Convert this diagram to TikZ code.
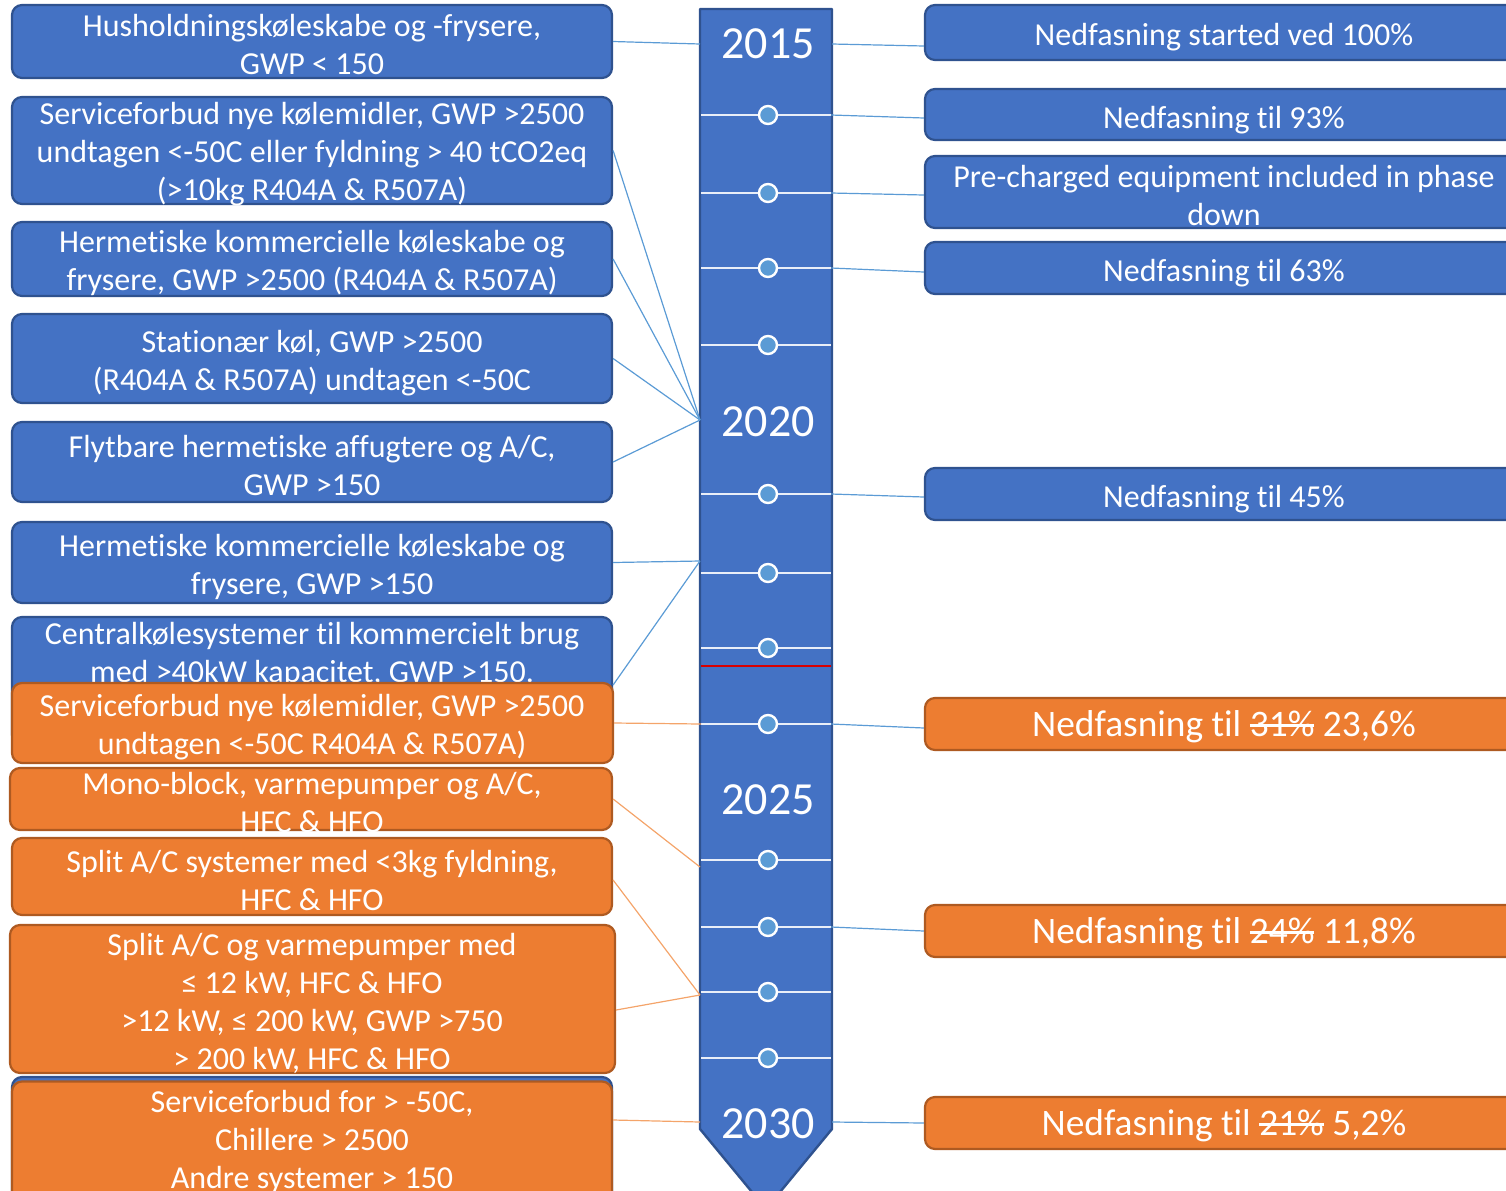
\documentclass[tikz,border=0pt]{standalone}
\usepackage{fontspec}
\setmainfont{Carlito}[Ligatures=NoCommon]
\newsavebox\tlsbox
\newcommand\tlstrike[1]{\sbox\tlsbox{#1}\rlap{\raisebox{0.25em}{\rule{\wd\tlsbox}{0.08em}}}\usebox\tlsbox}
\definecolor{tlBlue}{HTML}{4472C4}
\definecolor{tlNavy}{HTML}{2F528F}
\definecolor{tlOrange}{HTML}{ED7D31}
\definecolor{tlRust}{HTML}{AE5A21}
\definecolor{tlSky}{HTML}{5B9BD5}
\definecolor{tlPeach}{HTML}{F4A46A}
\tikzset{
  tl bar/.style={draw=tlNavy, fill=tlBlue, line width=1.2pt, line join=round},
  tl tick/.style={draw=white!88!tlBlue, line width=0.8pt},
  tl dot/.style={circle, draw=white, fill=tlSky, line width=1.2pt, minimum size=9pt, inner sep=0pt},
  tl year/.style={font=\fontsize{23}{28}\selectfont, text=white},
  tl box/.style={rectangle, rounded corners=5pt, line width=1.1pt, minimum width=300pt, inner sep=0pt},
  tl blue/.style={tl box, draw=tlNavy, fill=tlBlue},
  tl orange/.style={tl box, draw=tlRust, fill=tlOrange},
  tl text/.style={font=\fontsize{16}{19}\selectfont, text=white, align=center, yshift=-1.4pt},
  tl big/.style={font=\fontsize{18.7}{23}\selectfont, text=white, yshift=-1pt},
  tl link/.style={draw=tlSky, line width=0.6pt},
  tl olink/.style={draw=tlPeach, line width=0.6pt},
}
\begin{document}
\begin{tikzpicture}[x=0.5pt,y=-0.5pt]
\useasboundingbox (0,0) rectangle (1506,1190);
% timeline
\path[tl bar] (700,9) -- (832,9) -- (832,1129) -- (766,1209) -- (700,1129) -- cycle;
\foreach \y [count=\i] in {115,193,268,345,494,573,648,724,860,927,992,1058}{
  \draw[tl tick] (701,\y) coordinate (tL\i) -- (831,\y) coordinate (tR\i);
  \node[tl dot] (d\i) at (768,\y) {};
}
\draw[red!85!black, line width=0.6pt] (701,666) -- (831,666);
\node[tl year] (y2015) at (768,44) {2015};
\node[tl year] (y2020) at (768,422) {2020};
\node[tl year] (y2025) at (768,800) {2025};
\node[tl year] (y2030) at (768,1124) {2030};
\coordinate (bL15) at (700,44);  \coordinate (bR15) at (832,44);
\coordinate (bL20) at (700,420);
\coordinate (bL21) at (700,561);
\coordinate (bL25) at (700,867);
\coordinate (bL27) at (700,995);
\coordinate (bL30) at (700,1122); \coordinate (bR30) at (832,1122);

% left side
\node[tl blue, minimum height=36.5pt] (h1) at (312,41.5) {};
\node[tl text] (t1) at (312,42) {Husholdningskøleskabe og -frysere,\\GWP < 150};
\node[tl blue, minimum height=53.5pt] (h2) at (312,150.5) {};
\node[tl text] (t2) at (312,151) {Serviceforbud nye kølemidler, GWP >2500\\undtagen <-50C eller fyldning > 40 tCO2eq\\(>10kg R404A \& R507A)};
\node[tl blue, minimum height=37pt] (h3) at (312,259) {};
\node[tl text] (t3) at (312,260) {Hermetiske kommercielle køleskabe og\\frysere, GWP >2500 (R404A \& R507A)};
\node[tl blue, minimum height=44.5pt] (h4) at (312,358.5) {};
\node[tl text] (t4) at (312,360) {Stationær køl, GWP >2500\\(R404A \& R507A) undtagen <-50C};
\node[tl blue, minimum height=40pt] (h5) at (312,462) {};
\node[tl text] (t5) at (312,463) {Flytbare hermetiske affugtere og A/C,\\GWP >150};
\node[tl blue, minimum height=40.5pt] (h6) at (312,562.5) {};
\node[tl text] (t6) at (312,564) {Hermetiske kommercielle køleskabe og\\frysere, GWP >150};
\node[tl blue, minimum height=64pt] (h7) at (312,681) {};
\node[tl text] (t7) at (312,652) {Centralkølesystemer til kommercielt brug\\med >40kW kapacitet, GWP >150.};
\node[tl orange, minimum height=40pt, minimum width=300.5pt] (h8) at (312.5,723) {};
\node[tl text] (t8) at (312,724) {Serviceforbud nye kølemidler, GWP >2500\\undtagen <-50C R404A \& R507A)};
\node[tl orange, minimum height=31pt, minimum width=301pt] (h9) at (311,799) {};
\node[tl text] (t9) at (312,800) {Mono-block, varmepumper og A/C,\\HFC \& HFO};
\node[tl orange, minimum height=38.5pt] (h10) at (312,876.5) {};
\node[tl text] (t10) at (312,878) {Split A/C systemer med <3kg fyldning,\\HFC \& HFO};
\node[tl orange, minimum height=74pt, minimum width=302.5pt] (h11) at (312.5,999) {};
\node[tl text] (t11) at (312,1001) {Split A/C og varmepumper med\\≤ 12 kW, HFC \& HFO\\>12 kW, ≤ 200 kW, GWP >750\\> 200 kW, HFC \& HFO};
\node[tl blue, minimum height=62pt] (h12b) at (312,1139) {};
\node[tl orange, minimum height=59.5pt] (h12) at (312,1141) {};
\node[tl text] (t12) at (312,1139) {Serviceforbud for > -50C,\\Chillere > 2500\\Andre systemer > 150};

% right side
\node[tl blue, minimum height=27.5pt, minimum width=299pt] (r1) at (1224,32.5) {};
\node[tl text] (s1) at (1224,34) {Nedfasning started ved 100\%};
\node[tl blue, minimum height=25.5pt, minimum width=299pt] (r2) at (1224,114.5) {};
\node[tl text] (s2) at (1224,117) {Nedfasning til 93\%};
\node[tl blue, minimum height=36pt, minimum width=299pt] (r3) at (1224,192) {};
\node[tl text] (s3) at (1224,193) {Pre-charged equipment included in phase\\down};
\node[tl blue, minimum height=26pt, minimum width=299pt] (r4) at (1224,268) {};
\node[tl text] (s4) at (1224,270) {Nedfasning til 63\%};
\node[tl blue, minimum height=26pt, minimum width=299pt] (r5) at (1224,494) {};
\node[tl text] (s5) at (1224,496) {Nedfasning til 45\%};
\node[tl orange, minimum height=26pt, minimum width=299pt] (r6) at (1224,724) {};
\node[tl big] (s6) at (1224,725) {Nedfasning til \tlstrike{31\%} 23,6\%};
\node[tl orange, minimum height=26pt, minimum width=299pt] (r7) at (1224,931) {};
\node[tl big] (s7) at (1224,932) {Nedfasning til \tlstrike{24\%} 11,8\%};
\node[tl orange, minimum height=26pt, minimum width=299pt] (r8) at (1224,1123) {};
\node[tl big] (s8) at (1224,1124) {Nedfasning til \tlstrike{21\%} 5,2\%};

% connectors
\draw[tl link] (h1.east) -- (bL15);
\foreach \b in {h2,h3,h4,h5}{\draw[tl link] (\b.east) -- (bL20);}
\draw[tl link] (h6.east) -- (bL21);
\draw[tl link] ([yshift=-2pt]h7.east) -- (bL21);
\draw[tl olink] (h8.east) -- (tL8);
\draw[tl olink] (h9.east) -- (bL25);
\draw[tl olink] ([yshift=-1.75pt]h10.east) -- (bL27);
\draw[tl olink] ([yshift=-5.5pt]h11.east) -- (bL27);
\draw[tl olink] ([yshift=10.5pt]h12.east) -- (bL30);
\draw[tl link] (bR15) -- ([yshift=-6.75pt]r1.west);
\draw[tl link] (tR1) -- ([yshift=-1.75pt]r2.west);
\draw[tl link] (tR2) -- ([yshift=-1.5pt]r3.west);
\draw[tl link] (tR3) -- ([yshift=-2pt]r4.west);
\draw[tl link] (tR5) -- ([yshift=-1.5pt]r5.west);
\draw[tl link] (tR8) -- ([yshift=-2pt]r6.west);
\draw[tl link] (tR10) -- (r7.west);
\draw[tl link] (bR30) -- (r8.west);
\end{tikzpicture}
\end{document}
